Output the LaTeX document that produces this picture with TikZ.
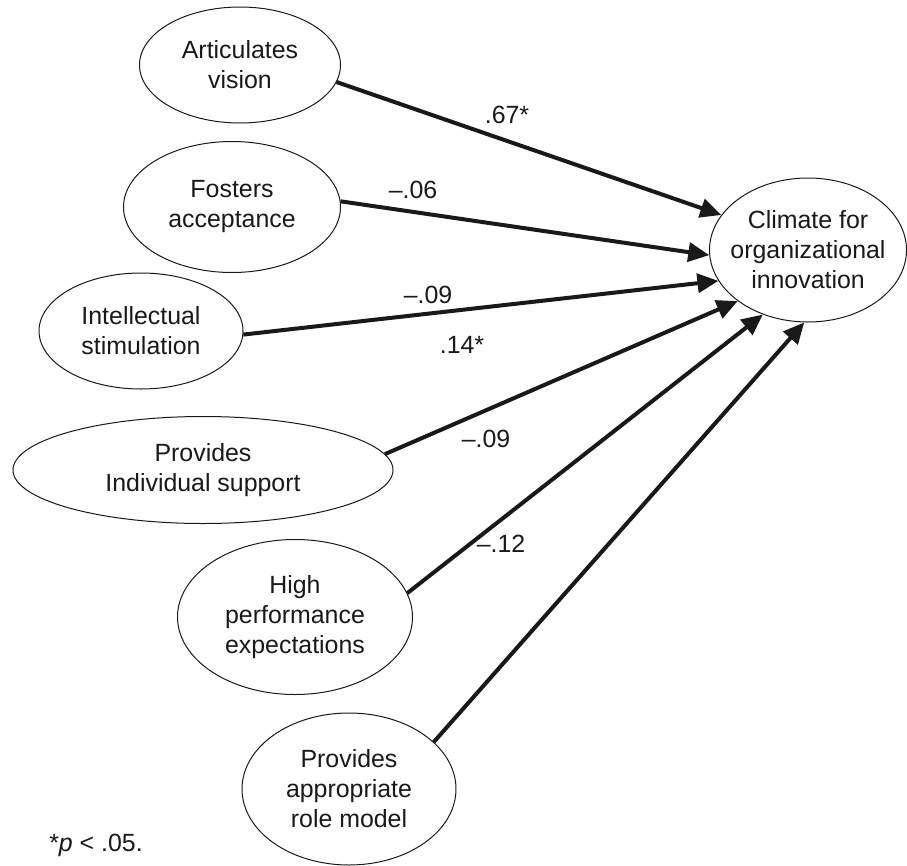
\documentclass[tikz,border=0pt]{standalone}
\usepackage{fontspec}
\setmainfont{Liberation Sans}
\usetikzlibrary{shapes.geometric,arrows.meta}
\tikzset{
  ell/.style={draw=black!90, ellipse, line width=1pt, inner sep=0pt},
  txt/.style={align=center, font=\fontsize{24.9}{30}\selectfont, text=black!90},
  coef/.style={font=\fontsize{24.9}{30}\selectfont, text=black!90, inner sep=0pt},
  path/.style={line width=4pt, draw=black!90, -{Triangle[length=21pt,width=19pt]}}
}
\begin{document}
\begin{tikzpicture}[x=1pt,y=-1pt]
\useasboundingbox (0,0) rectangle (907,865);
% predictors
\node[ell, minimum width=201pt, minimum height=116pt, label={[txt]center:Articulates\\vision}] (av) at (240,65) {};
\node[ell, minimum width=217pt, minimum height=131pt, label={[txt]center:Fosters\\acceptance}] (fa) at (232,207) {};
\node[ell, minimum width=204pt, minimum height=116pt, label={[txt]center:Intellectual\\stimulation}] (is) at (141,331) {};
\node[ell, minimum width=380pt, minimum height=107pt, label={[txt]center:Provides\\Individual support}] (ps) at (203,470) {};
\node[ell, minimum width=235pt, minimum height=155pt, label={[txt]center:High\\performance\\expectations}] (hp) at (295,617) {};
\node[ell, minimum width=214pt, minimum height=152pt, label={[txt]center:Provides\\appropriate\\role model}] (rm) at (349,789) {};
% outcome
\node[ell, minimum width=197pt, minimum height=144pt, label={[txt]center:Climate for\\organizational\\innovation}] (ci) at (808,250) {};
% paths
\draw[path] (av.-10.5) -- (ci.158.3);
\draw[path] (fa.3.7) -- (ci.-177);
\draw[path] (is.-2.2) -- (ci.199.4);
\draw[path] (ps.5.3) -- (ci.216);
\draw[path] (hp.12.1) -- (ci.235.7);
\draw[path] (rm.29.2) -- (ci.267.6);
% coefficients
\node[coef] (c1) at (507,115) {.67*};
\node[coef] (c2) at (413,190) {–.06};
\node[coef] (c3) at (428,295) {–.09};
\node[coef] (c4) at (462,345) {.14*};
\node[coef] (c5) at (486,439) {–.09};
\node[coef] (c6) at (501,544) {–.12};
% note
\node[coef] (note) at (96,845) {*\textit{p} < .05.};
\end{tikzpicture}
\end{document}
